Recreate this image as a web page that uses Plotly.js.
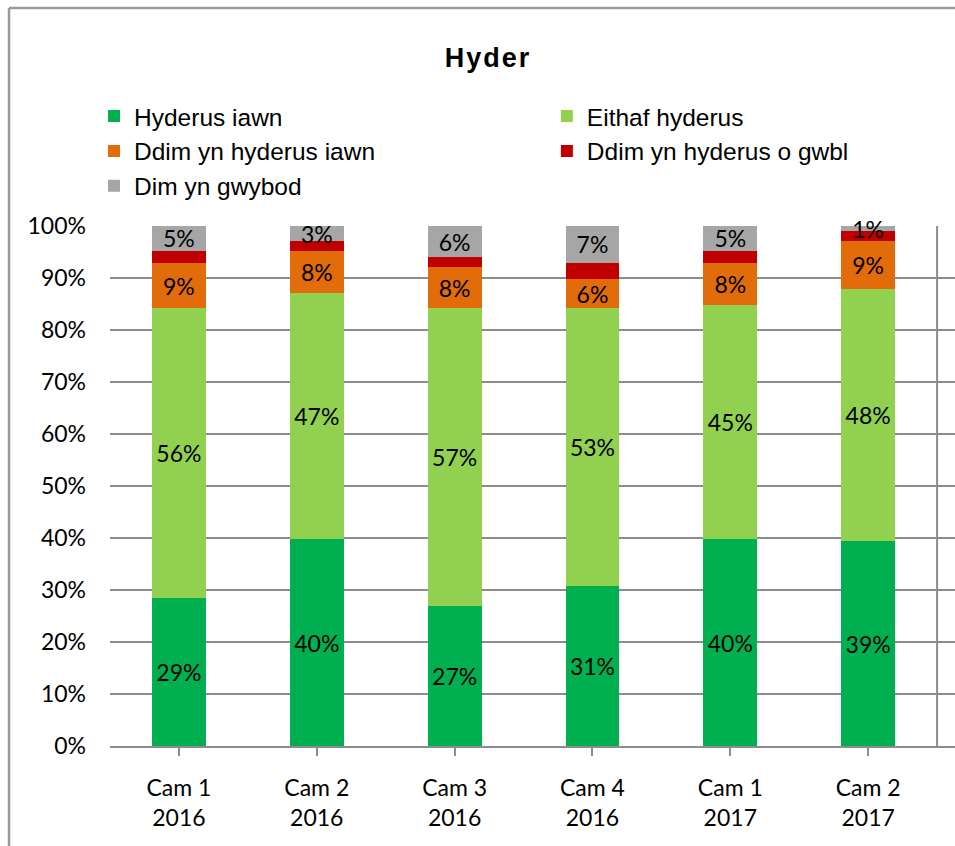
<!DOCTYPE html>
<html>
<head>
<meta charset="utf-8">
<script src="https://cdn.plot.ly/plotly-3.0.1.min.js"></script>
<style>
html,body{margin:0;padding:0;background:#fff;}
#chart{width:955px;height:846px;}
#chart .gtitle{letter-spacing:2px;}
</style>
</head>
<body>
<div id="chart"></div>
<script>
const categories = ["Cam 1<br>2016", "Cam 2<br>2016", "Cam 3<br>2016", "Cam 4<br>2016", "Cam 1<br>2017", "Cam 2<br>2017"];
const seriesNames = ["Hyderus iawn", "Eithaf hyderus", "Ddim yn hyderus iawn", "Ddim yn hyderus o gwbl", "Dim yn gwybod"];
const hyderusIawn      = [28.5, 39.8, 26.9, 30.8, 39.8, 39.4];
const eithafHyderus    = [55.7, 47.4, 57.3, 53.4, 45.1, 48.4];
const ddimHyderusIawn  = [8.7, 8.0, 7.9, 5.6, 8.0, 9.3];
const ddimHyderusGwbl  = [2.3, 1.9, 1.9, 3.1, 2.3, 1.9];
const dimYnGwybod      = [4.8, 2.9, 6.0, 7.1, 4.8, 1.0];
const showLabels = [true, true, true, false, true];
const legendColumn = ["legend", "legend2", "legend", "legend2", "legend"];
const colors = ["#00B050", "#92D050", "#E36C0A", "#C00000", "#A6A6A6"];
const yTickVals = [0, 10, 20, 30, 40, 50, 60, 70, 80, 90, 100];

const allSeries = [hyderusIawn, eithafHyderus, ddimHyderusIawn, ddimHyderusGwbl, dimYnGwybod];
const xIdx = categories.map((c, i) => i);

const traces = allSeries.map((vals, s) => ({
  type: "bar",
  name: seriesNames[s],
  legend: legendColumn[s],
  x: xIdx,
  y: vals,
  marker: {color: colors[s], line: {width: 0}},
  text: showLabels[s] ? vals.map(v => Math.round(v) + "%") : vals.map(() => ""),
  textposition: "inside",
  insidetextanchor: "middle",
  textangle: 0,
  constraintext: "none",
  cliponaxis: false,
  textfont: {family: "Lato, 'Open Sans', sans-serif", size: 23, color: "#000"},
  hoverinfo: "skip"
}));

const gridColor = "#8c8c8c";
const legendFont = {family: "'Liberation Sans', Arial, sans-serif", size: 24.5, color: "#000"};
const layout = {
  width: 955,
  height: 846,
  margin: {l: 110, r: 0, t: 226, b: 100},
  paper_bgcolor: "#fff",
  plot_bgcolor: "#fff",
  barmode: "stack",
  bargap: 0.61,
  showlegend: true,
  title: {
    text: "<b>Hyder</b>",
    font: {family: "'Liberation Sans', Arial, sans-serif", size: 27, color: "#000"},
    x: 0.511, xref: "container", xanchor: "center",
    y: 1 - 58 / 846, yref: "container", yanchor: "middle"
  },
  legend: {
    orientation: "v",
    traceorder: "normal",
    x: -0.0189, xanchor: "left",
    y: 1.2546, yanchor: "top",
    bgcolor: "rgba(0,0,0,0)",
    font: legendFont,
    itemwidth: 30,
    tracegroupgap: 0
  },
  legend2: {
    orientation: "v",
    traceorder: "normal",
    x: 0.517, xanchor: "left",
    y: 1.2546, yanchor: "top",
    bgcolor: "rgba(0,0,0,0)",
    font: legendFont,
    itemwidth: 30,
    tracegroupgap: 0
  },
  xaxis: {
    range: [-0.5, 5.63],
    tickmode: "array",
    tickvals: xIdx,
    ticktext: categories,
    tickson: "boundaries",
    ticks: "outside",
    ticklen: 8,
    tickwidth: 2,
    tickcolor: gridColor,
    showline: true,
    linecolor: gridColor,
    linewidth: 2,
    showgrid: false,
    zeroline: false,
    fixedrange: true,
    ticklabelstandoff: 12,
    tickfont: {family: "Lato, 'Open Sans', sans-serif", size: 23, color: "#000"}
  },
  yaxis: {
    range: [0, 100],
    tickmode: "array",
    tickvals: yTickVals,
    ticktext: yTickVals.map(v => v + "%"),
    showgrid: true,
    gridcolor: gridColor,
    gridwidth: 2,
    zeroline: false,
    showline: false,
    ticks: "",
    ticklabelstandoff: 23,
    fixedrange: true,
    tickfont: {family: "Lato, 'Open Sans', sans-serif", size: 23, color: "#000"}
  },
  shapes: [
    {type: "line", xref: "x", yref: "paper", x0: 5.5, x1: 5.5, y0: 0, y1: 1, line: {color: gridColor, width: 2}},
    {type: "line", xref: "paper", yref: "paper", x0: -0.1195, x1: -0.1195, y0: -0.25, y1: 1.4192, line: {color: "#999", width: 2.5}},
    {type: "line", xref: "paper", yref: "paper", x0: -0.1195, x1: 1.05, y0: 1.4192, y1: 1.4192, line: {color: "#999", width: 2.5}}
  ]
};

Plotly.newPlot("chart", traces, layout, {displayModeBar: false, staticPlot: true});
</script>
</body>
</html>
